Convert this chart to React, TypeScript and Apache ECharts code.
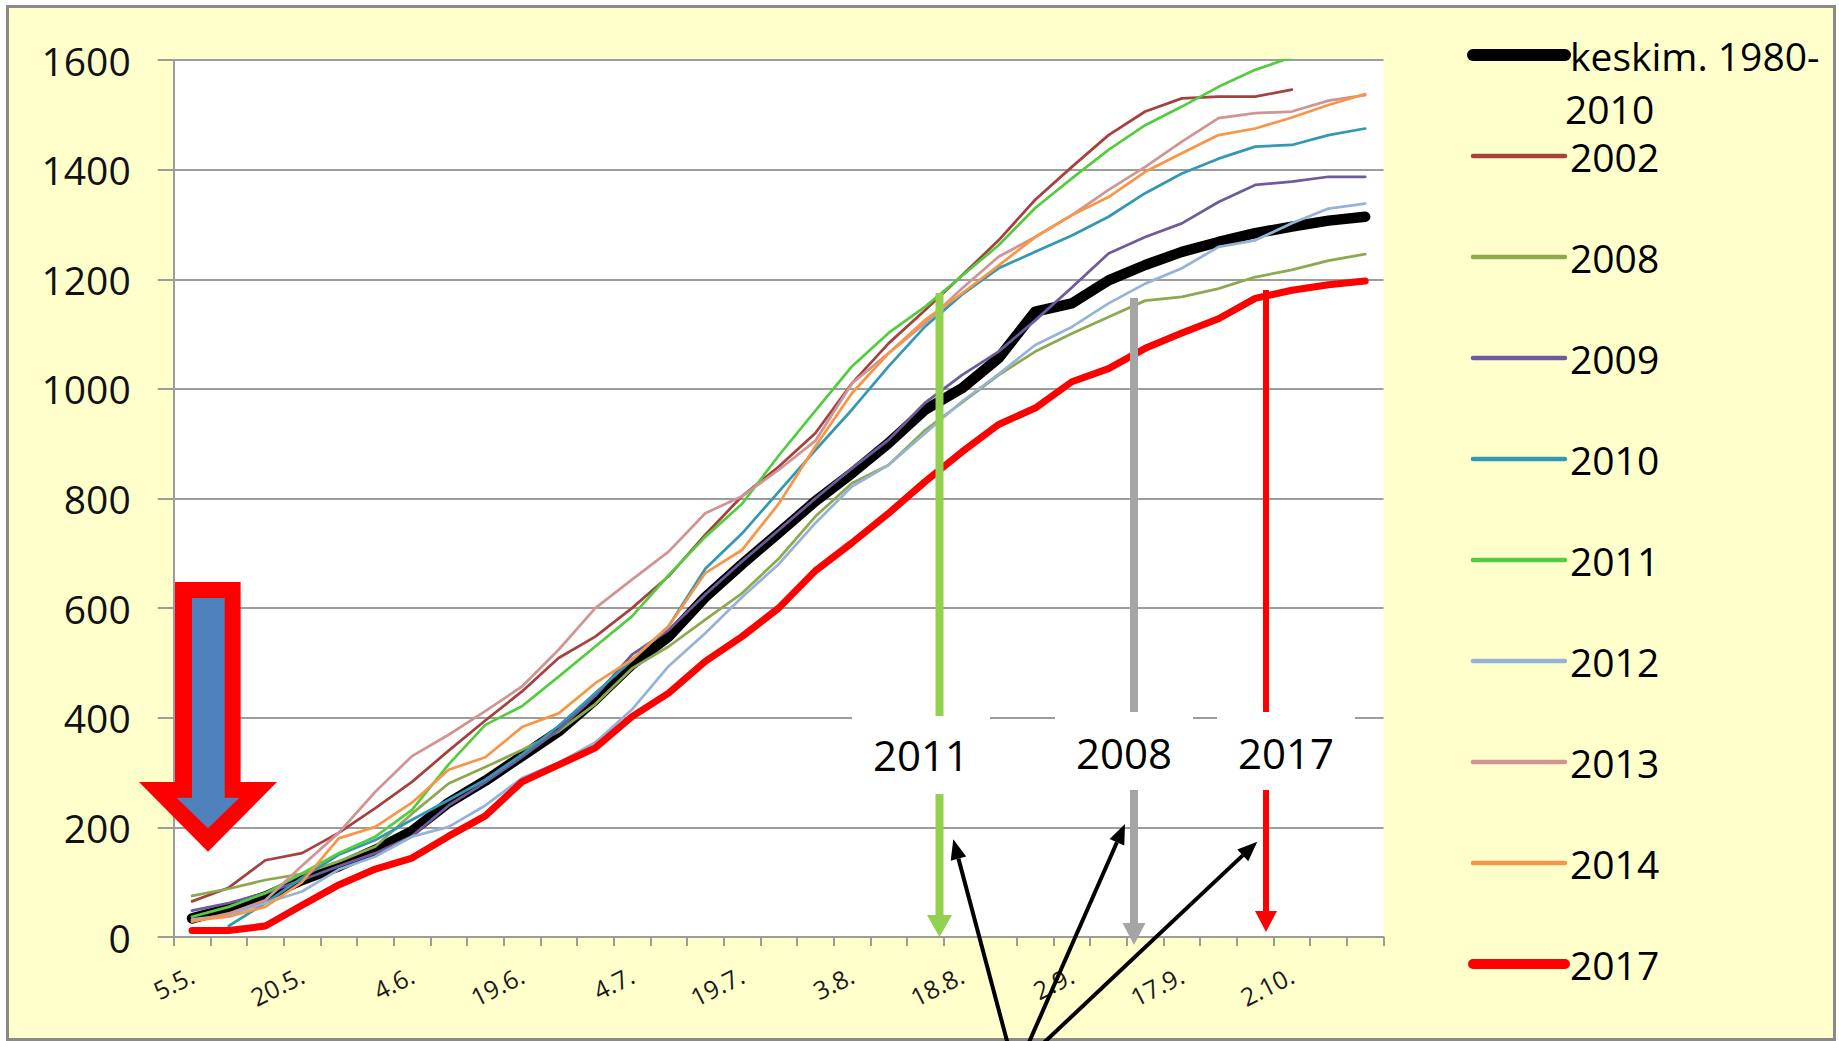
import React, { useEffect, useRef } from "react";
import * as echarts from "echarts";

const FONT = '"Open Sans", "Liberation Sans", sans-serif';

const categories = [
  "5.5.", "10.5.", "15.5.", "20.5.", "25.5.", "30.5.", "4.6.", "9.6.", "14.6.", "19.6.", "24.6.",
  "29.6.", "4.7.", "9.7.", "14.7.", "19.7.", "24.7.", "29.7.", "3.8.", "8.8.", "13.8.", "18.8.",
  "23.8.", "28.8.", "2.9.", "7.9.", "12.9.", "17.9.", "22.9.", "27.9.", "2.10.", "7.10.", "12.10.",
];

const yTicks = { min: 0, max: 1600, step: 200 };

const avgName = "keskim. 1980-2010";
const avgValues = [34, 52, 74, 104, 129, 159, 193, 245, 285, 330, 375, 433, 497, 548, 620, 680, 737, 795, 846, 901, 962, 1001, 1056, 1141, 1156, 1198, 1226, 1250, 1268, 1284, 1296, 1307, 1314];
const y2002 = [65, 90, 140, 153, 190, 235, 283, 340, 395, 448, 509, 548, 600, 658, 734, 804, 858, 919, 1010, 1083, 1144, 1207, 1271, 1345, 1405, 1463, 1506, 1530, 1533, 1533, 1546, null, null];
const y2008 = [75, 88, 104, 115, 138, 165, 225, 280, 310, 341, 375, 425, 490, 530, 579, 627, 690, 767, 828, 861, 925, 975, 1025, 1068, 1101, 1131, 1161, 1168, 1183, 1204, 1217, 1234, 1246];
const y2009 = [48, 62, 80, 104, 129, 153, 184, 240, 282, 328, 378, 440, 515, 560, 625, 685, 742, 800, 855, 907, 975, 1025, 1068, 1125, 1185, 1247, 1277, 1302, 1341, 1372, 1378, 1387, 1387];
const y2010 = [null, 20, 62, 108, 150, 177, 214, 250, 287, 333, 385, 445, 505, 567, 672, 736, 812, 888, 962, 1041, 1114, 1172, 1220, 1250, 1280, 1314, 1357, 1393, 1420, 1442, 1445, 1463, 1475];
const y2011 = [37, 55, 80, 116, 153, 183, 232, 315, 387, 421, 475, 530, 585, 660, 730, 790, 878, 960, 1041, 1102, 1150, 1206, 1262, 1330, 1384, 1436, 1481, 1515, 1551, 1582, 1605, 1635, 1660];
const y2012 = [32, 40, 62, 83, 123, 147, 183, 201, 240, 290, 318, 355, 415, 494, 554, 620, 680, 755, 822, 861, 919, 977, 1027, 1080, 1113, 1156, 1192, 1220, 1259, 1271, 1302, 1329, 1338];
const y2013 = [28, 43, 67, 130, 190, 265, 330, 369, 412, 457, 524, 600, 652, 703, 773, 804, 852, 905, 1010, 1065, 1120, 1183, 1241, 1277, 1317, 1363, 1405, 1451, 1494, 1503, 1506, 1526, 1536];
const y2014 = [30, 37, 55, 100, 180, 201, 245, 305, 328, 383, 408, 463, 506, 567, 664, 706, 790, 895, 992, 1065, 1126, 1174, 1225, 1277, 1317, 1350, 1396, 1430, 1463, 1475, 1495, 1518, 1538];
const y2017 = [12, 12, 20, 58, 95, 124, 144, 184, 221, 283, 314, 345, 402, 445, 503, 548, 600, 668, 719, 773, 831, 885, 935, 965, 1013, 1037, 1074, 1102, 1128, 1165, 1180, 1190, 1197];

const seriesNames = [avgName, "2002", "2008", "2009", "2010", "2011", "2012", "2013", "2014", "2017"];
const seriesData = [avgValues, y2002, y2008, y2009, y2010, y2011, y2012, y2013, y2014, y2017];
const seriesColors = ["#000000", "#A3423E", "#8DA94F", "#6F5B9B", "#3398B4", "#55CC40", "#95B3D7", "#D09494", "#F79646", "#FF0000"];
const seriesWidths = [10.5, 2.75, 2.75, 2.75, 2.75, 2.75, 2.75, 2.75, 2.75, 7];
const legendWidths = [12, 4.5, 4.5, 4.5, 4.5, 4.5, 4.5, 4.5, 4.5, 10];

const annotationLabels = ["2011", "2008", "2017"];

function arrowParts(x1: number, y1: number, x2: number, y2: number, color: string, width: number, headLen: number, headHalf: number, z: number) {
  const dx = x2 - x1, dy = y2 - y1;
  const L = Math.hypot(dx, dy);
  const ux = dx / L, uy = dy / L;
  const bx = x2 - ux * headLen, by = y2 - uy * headLen;
  const px = -uy, py = ux;
  return [
    { type: "line", z, silent: true, shape: { x1, y1, x2: bx, y2: by }, style: { stroke: color, lineWidth: width } },
    {
      type: "polygon", z, silent: true,
      shape: { points: [[x2, y2], [bx + px * headHalf, by + py * headHalf], [bx - px * headHalf, by - py * headHalf]] },
      style: { fill: color },
    },
  ];
}

export default function App() {
  const ref = useRef<HTMLDivElement>(null);
  useEffect(() => {
    if (!ref.current) return;
    const chart = echarts.init(ref.current, null, { renderer: "svg" });
    const gridColor = "#9c9c9c";

    const graphic: any[] = [
      // continuation of first legend entry
      { type: "text", x: 1565, y: 108, z: 50, silent: true, style: { text: "2010", fontSize: 39, fontFamily: FONT, fill: "#000", verticalAlign: "middle" } },
      // big left arrow
      {
        type: "polygon", z: 100, silent: true,
        shape: { points: [[175, 582], [240.6, 582], [240.6, 782], [277, 782], [208, 851.7], [139, 782], [175, 782]] },
        style: { fill: "#FF0000" },
      },
      {
        type: "polygon", z: 101, silent: true,
        shape: { points: [[192, 598], [224.7, 598], [224.7, 797.7], [239.4, 797.7], [208, 828.3], [176.5, 797.7], [192, 797.7]] },
        style: { fill: "#4F81BD" },
      },
      ...arrowParts(939.5, 293, 939.5, 937, "#92D050", 8, 22, 12.5, 100),
      ...arrowParts(1134, 298, 1134, 945, "#A5A5A5", 8, 22, 11.5, 100),
      ...arrowParts(1266, 290, 1266, 932, "#FF0000", 6, 21, 11, 100),
      { type: "rect", z: 110, silent: true, shape: { x: 852, y: 716, width: 138, height: 78 }, style: { fill: "#ffffff" } },
      { type: "rect", z: 110, silent: true, shape: { x: 1055, y: 712, width: 138, height: 78 }, style: { fill: "#ffffff" } },
      { type: "rect", z: 110, silent: true, shape: { x: 1217, y: 712, width: 138, height: 78 }, style: { fill: "#ffffff" } },
      { type: "text", z: 111, silent: true, x: 921, y: 754, style: { text: annotationLabels[0], fontSize: 42, fontFamily: FONT, fill: "#000", align: "center", verticalAlign: "middle" } },
      { type: "text", z: 111, silent: true, x: 1124, y: 752, style: { text: annotationLabels[1], fontSize: 42, fontFamily: FONT, fill: "#000", align: "center", verticalAlign: "middle" } },
      { type: "text", z: 111, silent: true, x: 1286, y: 752, style: { text: annotationLabels[2], fontSize: 42, fontFamily: FONT, fill: "#000", align: "center", verticalAlign: "middle" } },
      ...arrowParts(1009.4, 1050, 953.3, 839.3, "#000000", 4, 20, 8, 120),
      ...arrowParts(1025.6, 1050, 1125, 824, "#000000", 4, 20, 8, 120),
      ...arrowParts(1036.1, 1050, 1257.3, 841.7, "#000000", 4, 20, 8, 120),
    ];

    chart.setOption({
      animation: false,
      backgroundColor: "transparent",
      textStyle: { fontFamily: FONT },
      grid: {
        left: 173.7, right: 455.5, top: 60, bottom: 104,
        show: true, backgroundColor: "#ffffff", borderWidth: 0,
      },
      legend: {
        orient: "vertical",
        left: 1467,
        top: 30,
        padding: 0,
        itemGap: 51,
        itemWidth: 92,
        itemHeight: 10,
        selectedMode: false,
        itemStyle: { opacity: 0 },
        data: seriesNames.map((name, i) => ({
          name,
          itemStyle: { opacity: 0 },
          lineStyle: { width: legendWidths[i], color: seriesColors[i], cap: "round" },
        })),
        formatter: (n: string) => (n === avgName ? "keskim. 1980-" : n),
        textStyle: { fontSize: 39, lineHeight: 50, fontFamily: FONT, color: "#000" },
      },
      xAxis: {
        type: "category",
        data: categories,
        boundaryGap: true,
        axisLine: { lineStyle: { color: gridColor, width: 2 } },
        axisTick: { show: true, interval: 0, length: 9, lineStyle: { color: gridColor, width: 2 } },
        axisLabel: { interval: 2, rotate: 27, margin: 36, fontSize: 25, fontFamily: FONT, color: "#1a1a1a" },
        splitLine: { show: false },
      },
      yAxis: {
        type: "value",
        min: yTicks.min,
        max: yTicks.max,
        interval: yTicks.step,
        axisLine: { show: true, lineStyle: { color: gridColor, width: 2 } },
        axisTick: { show: true, length: 16, lineStyle: { color: gridColor, width: 2 } },
        axisLabel: { fontSize: 39, margin: 43, fontFamily: FONT, color: "#111", formatter: (v: number) => String(v) },
        splitLine: { show: true, lineStyle: { color: gridColor, width: 2 } },
      },
      series: seriesNames.map((name, i) => ({
        type: "line",
        name,
        data: seriesData[i],
        symbol: "none",
        smooth: false,
        clip: true,
        color: seriesColors[i],
        lineStyle: { color: seriesColors[i], width: seriesWidths[i], cap: "round", join: "round" },
        emphasis: { disabled: true },
        z: 2 + i * 0.01,
      })),
      graphic,
    });
    return () => chart.dispose();
  }, []);

  return (
    <div style={{ position: "fixed", left: 0, top: 0, width: 1839, height: 1041, background: "#ffffff", overflow: "hidden" }}>
      <div
        style={{
          position: "absolute", left: 5.5, top: 4.5, width: 1830, height: 1036,
          border: "3px solid #8a8a8a", background: "#FFFFCC", boxSizing: "border-box",
        }}
      />
      <div ref={ref} style={{ position: "absolute", left: 0, top: 0, width: 1839, height: 1041 }} />
    </div>
  );
}
